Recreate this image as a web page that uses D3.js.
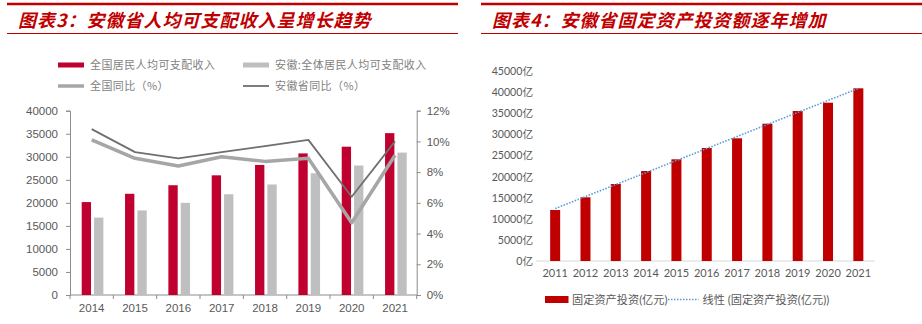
<!DOCTYPE html>
<html><head><meta charset="utf-8">
<script src="https://cdn.jsdelivr.net/npm/d3@7"></script>
<style>
body{margin:0;background:#fff;}
svg{display:block;}
</style></head>
<body>
<svg id="c" width="922" height="324"></svg>
<script>
// ---- Chart 3 data ----
const years3 = ["2014","2015","2016","2017","2018","2019","2020","2021"];
const nationalIncome = [20167,21966,23821,25974,28228,30733,32189,35128];
const anhuiIncome = [16796,18363,19998,21863,23984,26415,28103,30904];
const nationalYoY = [10.1,8.9,8.4,9.0,8.7,8.9,4.7,9.1];
const anhuiYoY = [10.8,9.3,8.9,9.3,9.7,10.1,6.4,10.0];
const leftTicks3 = [0,5000,10000,15000,20000,25000,30000,35000,40000];
const rightTicks3 = [0,2,4,6,8,10,12];
const legend3 = ["全国居民人均可支配收入","安徽:全体居民人均可支配收入","全国同比（%）","安徽省同比（%）"];
const title3 = "图表3：安徽省人均可支配收入呈增长趋势";

// ---- Chart 4 data ----
const years4 = ["2011","2012","2013","2014","2015","2016","2017","2018","2019","2020","2021"];
const fixedInvest = [12085,15095,18246,21327,24100,26777,29076,32535,35545,37512,40924];
const ticks4 = [0,5000,10000,15000,20000,25000,30000,35000,40000,45000];
const legend4 = ["固定资产投资(亿元)","线性 (固定资产投资(亿元))"];
const title4 = "图表4：安徽省固定资产投资额逐年增加";

const svg = d3.select("#c");
const RED = "#c0002f";
const TITLE_RED = "#c00000";

function header(x0, x1, title, tx){
  svg.append("line").attr("x1",x0).attr("x2",x1).attr("y1",4).attr("y2",4)
    .attr("stroke",TITLE_RED).attr("stroke-width",2.5);
  svg.append("line").attr("x1",x0).attr("x2",x1).attr("y1",33.5).attr("y2",33.5)
    .attr("stroke",TITLE_RED).attr("stroke-width",1);
  svg.append("text").attr("x",tx).attr("y",26.5)
    .attr("font-family","'Noto Sans CJK SC'").attr("font-size",18).attr("font-weight","bold")
    .attr("letter-spacing",1).attr("font-style","italic").attr("fill",TITLE_RED).text(title);
}
header(7, 458, title3, 18);
header(481, 922, title4, 492);

// ================= Chart 3 =================
const x3 = d3.scaleBand().domain(years3).range([70,416.7]);
const yL = d3.scaleLinear().domain([0,40000]).range([295,110.7]);
const yR = d3.scaleLinear().domain([0,12]).range([295,110.7]);
const bw = x3.bandwidth();
const barW = bw*0.215, off = bw*0.27, gap = bw*0.07;
const axisCol = "#8c8c8c";
const tickFont = "'Liberation Sans', Arial, sans-serif";

const g3 = svg.append("g");
const axL = d3.axisLeft(yL).tickValues(leftTicks3).tickSize(4).tickPadding(8).tickFormat(d3.format("d"));
const gL = g3.append("g").attr("transform","translate(70,0)").call(axL);
const axR = d3.axisRight(yR).tickValues(rightTicks3).tickSize(4).tickPadding(6).tickFormat(d=>d+"%");
const gR = g3.append("g").attr("transform","translate(416.7,0)").call(axR);
const axB = d3.axisBottom(x3).tickSize(0).tickPadding(9);
const gB = g3.append("g").attr("transform","translate(0,295)").call(axB);
gB.selectAll(".tick-b").data(d3.range(years3.length+1)).enter().append("line")
  .attr("x1",i=>70+i*x3.step()).attr("x2",i=>70+i*x3.step()).attr("y1",0).attr("y2",4)
  .attr("stroke",axisCol);
[gL,gR,gB].forEach(g=>{
  g.select(".domain").attr("stroke",axisCol).attr("stroke-width",1);
  g.selectAll(".tick line").attr("stroke",axisCol);
  g.selectAll("text").attr("font-family",tickFont).attr("font-size",11.5).attr("fill","#595959");
});
gB.select(".domain").attr("d","M70,0H416.7");

g3.selectAll(".nb").data(years3).enter().append("rect")
  .attr("x",d=>x3(d)+off).attr("width",barW)
  .attr("y",(d,i)=>yL(nationalIncome[i])).attr("height",(d,i)=>295-yL(nationalIncome[i]))
  .attr("fill",RED);
g3.selectAll(".ab").data(years3).enter().append("rect")
  .attr("x",d=>x3(d)+off+barW+gap).attr("width",barW)
  .attr("y",(d,i)=>yL(anhuiIncome[i])).attr("height",(d,i)=>295-yL(anhuiIncome[i]))
  .attr("fill","#bfbfbf");
const line3 = (arr)=>d3.line().x((d,i)=>x3(years3[i])+bw/2).y(d=>yR(d))(arr);
g3.append("path").attr("d",line3(nationalYoY)).attr("fill","none")
  .attr("stroke","#a6a6a6").attr("stroke-width",3.5).attr("stroke-linejoin","round");
g3.append("path").attr("d",line3(anhuiYoY)).attr("fill","none")
  .attr("stroke","#6f6f6f").attr("stroke-width",1.8).attr("stroke-linejoin","round");

const lgFont = "'Noto Sans CJK SC', sans-serif";
const lg3 = [
  {x:58,y:65,type:"rect",col:RED,h:5},
  {x:243,y:65,type:"rect",col:"#bfbfbf",h:5},
  {x:58,y:86,type:"line",col:"#a6a6a6",w:3.5},
  {x:243,y:86,type:"line",col:"#6f6f6f",w:1.8}
];
lg3.forEach((l,i)=>{
  if(l.type==="rect"){
    svg.append("rect").attr("x",l.x).attr("y",l.y-l.h/2).attr("width",26).attr("height",l.h).attr("fill",l.col);
  } else {
    svg.append("line").attr("x1",l.x).attr("x2",l.x+26).attr("y1",l.y).attr("y2",l.y)
      .attr("stroke",l.col).attr("stroke-width",l.w);
  }
  svg.append("text").attr("x",l.x+32).attr("y",l.y+4)
    .attr("font-family",lgFont).attr("font-size",11).attr("letter-spacing",0.4)
    .attr("fill","#7f7f7f").text(legend3[i]);
});

// ================= Chart 4 =================
const x4 = d3.scaleBand().domain(years4).range([540,873.5]).paddingInner(0.67).paddingOuter(0.335);
const y4 = d3.scaleLinear().domain([0,45000]).range([261,71.1]);
const g4 = svg.append("g");
const font4 = "Lato, 'Noto Sans CJK SC', sans-serif";
const ax4 = d3.axisLeft(y4).tickValues(ticks4).tickSize(0).tickPadding(0).tickFormat(d=>d+"亿");
const gy4 = g4.append("g").attr("transform","translate(533,0)").call(ax4);
gy4.select(".domain").remove();
gy4.selectAll("text").attr("font-family",font4).attr("font-size",10.6).attr("fill","#595959");
const ax4b = d3.axisBottom(x4).tickSize(0).tickPadding(8);
const gx4 = g4.append("g").attr("transform","translate(0,261)").call(ax4b);
gx4.select(".domain").attr("d","M536,0H875").attr("stroke","#d9d9d9").attr("stroke-width",1);
gx4.selectAll("text").attr("font-family",font4).attr("font-size",11).attr("fill","#595959");

g4.selectAll(".fb").data(years4).enter().append("rect")
  .attr("x",d=>x4(d)).attr("width",x4.bandwidth())
  .attr("y",(d,i)=>y4(fixedInvest[i])).attr("height",(d,i)=>261-y4(fixedInvest[i]))
  .attr("fill","#c00000");

const n = fixedInvest.length;
const mx = d3.mean(d3.range(n)), my = d3.mean(fixedInvest);
const slope = d3.sum(d3.range(n), i=>(i-mx)*(fixedInvest[i]-my)) / d3.sum(d3.range(n), i=>(i-mx)*(i-mx));
const icpt = my - slope*mx;
const cx = i=>x4(years4[i])+x4.bandwidth()/2;
g4.append("line").attr("x1",cx(0)).attr("y1",y4(icpt)).attr("x2",cx(n-1)).attr("y2",y4(icpt+slope*(n-1)))
  .attr("stroke","#5b9bd5").attr("stroke-width",1.6).attr("stroke-dasharray","1.5,1.5");

svg.append("rect").attr("x",545).attr("y",296).attr("width",23.5).attr("height",7).attr("fill","#c00000");
svg.append("text").attr("x",572).attr("y",303.5).attr("font-family",font4).attr("font-size",11.2)
  .attr("fill","#595959").text(legend4[0]);
svg.append("line").attr("x1",668).attr("x2",698.5).attr("y1",299.5).attr("y2",299.5)
  .attr("stroke","#5b9bd5").attr("stroke-width",1.6).attr("stroke-dasharray","1.5,1.5");
svg.append("text").attr("x",702.5).attr("y",303.5).attr("font-family",font4).attr("font-size",11.2)
  .attr("fill","#595959").text(legend4[1]);
</script>
</body></html>
